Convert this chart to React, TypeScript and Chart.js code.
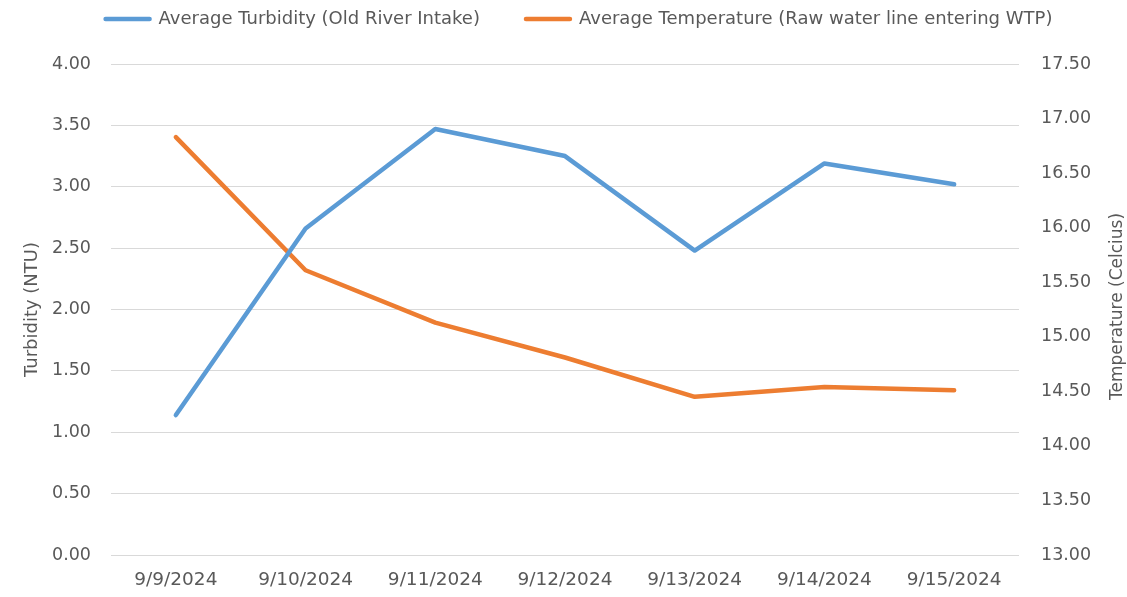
import React, { useEffect, useRef } from "react";
import { Chart, registerables } from "chart.js";

Chart.register(...registerables);

const categories = ["9/9/2024", "9/10/2024", "9/11/2024", "9/12/2024", "9/13/2024", "9/14/2024", "9/15/2024"];
const turbidity = [1.14, 2.66, 3.47, 3.25, 2.48, 3.19, 3.02];
const temperature = [16.83, 15.61, 15.13, 14.81, 14.45, 14.54, 14.51];
const turbidityLabel = "Average Turbidity (Old River Intake)";
const temperatureLabel = "Average Temperature (Raw water line entering WTP)";
const leftTitle = "Turbidity (NTU)";
const rightTitle = "Temperature (Celcius)";

const FONT = "'DejaVu Sans', sans-serif";
const TEXT = "#595959";
const BLUE = "#5B9BD5";
const ORANGE = "#ED7D31";
const GRID = "#D9D9D9";

const CANVAS_W = 1158;
const CANVAS_H = 633;
const TOP_SHIFT = 36;

const rightTitlePlugin = {
  id: "rightTitle",
  afterDraw(chart: any) {
    const s = chart.scales.y1;
    const ctx = chart.ctx;
    ctx.save();
    ctx.translate(s.right - 40, (s.top + s.bottom) / 2 - 3);
    ctx.rotate(-Math.PI / 2);
    ctx.font = `17px ${FONT}`;
    ctx.fillStyle = TEXT;
    ctx.textAlign = "center";
    ctx.textBaseline = "middle";
    ctx.fillText(rightTitle, 0, 0);
    ctx.restore();
  },
};

export default function App() {
  const ref = useRef<HTMLCanvasElement | null>(null);

  useEffect(() => {
    if (!ref.current) return;
    const chart = new Chart(ref.current, {
      type: "line",
      data: {
        labels: categories,
        datasets: [
          {
            label: turbidityLabel,
            data: turbidity,
            borderColor: BLUE,
            backgroundColor: BLUE,
            borderWidth: 4.5,
            borderCapStyle: "round",
            borderJoinStyle: "round",
            pointRadius: 0,
            tension: 0,
            yAxisID: "y",
          },
          {
            label: temperatureLabel,
            data: temperature,
            borderColor: ORANGE,
            backgroundColor: ORANGE,
            borderWidth: 4.5,
            borderCapStyle: "round",
            borderJoinStyle: "round",
            pointRadius: 0,
            tension: 0,
            yAxisID: "y1",
          },
        ],
      },
      options: {
        responsive: false,
        animation: false,
        devicePixelRatio: 1,
        layout: { padding: 0 },
        plugins: {
          legend: {
            position: "top",
            labels: {
              boxWidth: 44,
              boxHeight: 0,
              padding: 46,
              color: TEXT,
              font: { family: FONT, size: 18 },
            },
          },
          title: {
            display: true,
            text: "",
            weight: 500,
            padding: { top: 16, bottom: 0 },
            font: { size: 10, lineHeight: 1 },
          },
          tooltip: { enabled: false },
        },
        scales: {
          x: {
            offset: true,
            grid: { display: false, drawTicks: false },
            border: { display: false },
            ticks: {
              color: TEXT,
              padding: 14,
              maxRotation: 0,
              font: { family: FONT, size: 18.5 },
            },
            afterFit: (s: any) => {
              s.height = 42;
            },
          },
          y: {
            position: "left",
            min: 0,
            max: 4,
            ticks: {
              stepSize: 0.5,
              color: TEXT,
              padding: 20,
              font: { family: FONT, size: 17.5 },
              callback: (v: any) => Number(v).toFixed(2),
            },
            grid: { color: GRID, lineWidth: 1, drawTicks: false },
            border: { display: false },
            title: {
              display: true,
              text: leftTitle,
              color: TEXT,
              font: { family: FONT, size: 18 },
              padding: { top: 21.2, bottom: 0 },
            },
            afterFit: (s: any) => {
              s.width = 111;
            },
          },
          y1: {
            position: "right",
            min: 13,
            max: 17.5,
            ticks: {
              stepSize: 0.5,
              color: TEXT,
              padding: 22,
              font: { family: FONT, size: 17.5 },
              callback: (v: any) => Number(v).toFixed(2),
            },
            grid: { display: false, drawTicks: false },
            border: { display: false },
            afterFit: (s: any) => {
              s.width = 139;
            },
          },
        },
      },
      plugins: [rightTitlePlugin],
    });
    return () => chart.destroy();
  }, []);

  return (
    <div
      style={{
        position: "absolute",
        left: 0,
        top: 0,
        width: 1127,
        height: 597,
        overflow: "hidden",
        background: "#fff",
      }}
    >
      <canvas
        ref={ref}
        width={CANVAS_W}
        height={CANVAS_H}
        style={{ position: "absolute", left: 0, top: -TOP_SHIFT, width: CANVAS_W, height: CANVAS_H }}
      />
    </div>
  );
}
